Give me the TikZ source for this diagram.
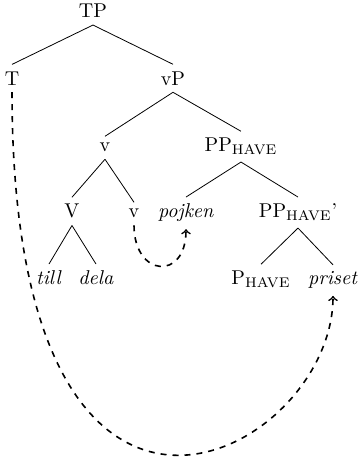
\documentclass[tikz,border=0pt]{standalone}
\usepackage{amsmath}
\usepackage{tikz}
\tikzset{cat/.style={anchor=base}}
\tikzset{move/.style={thick,dashed,->}}

\begin{document}
\begin{tikzpicture}
		\useasboundingbox (0,0) rectangle (6.291,-8.084);
		\node[cat] (TP) at (1.634,-0.316) {TP};
		\node[cat] (T) at (0.211,-1.494) {T};
		\node[cat] (vP) at (3.040,-1.494) {vP};
		\node[cat] (v) at (1.845,-2.671) {v};
		\node[cat] (PP) at (4.235,-2.671) {PP$_{\mathrm{HAVE}}$};
		\node[cat] (V) at (1.265,-3.831) {V};
		\node[cat] (v2) at (2.355,-3.831) {v};
		\node[cat] (pojken) at (3.269,-3.831) {\textit{pojken}};
		\node[cat] (PPbar) at (5.237,-3.831) {PP$_{\mathrm{HAVE}}$'};
		\node[cat] (till) at (0.861,-5.008) {\textit{till}};
		\node[cat] (dela) at (1.687,-5.008) {\textit{dela}};
		\node[cat] (P) at (4.587,-5.008) {P$_{\mathrm{HAVE}}$};
		\node[cat] (priset) at (5.852,-5.008) {\textit{priset}};
		\draw (TP.south)--(T.north);
		\draw (TP.south)--(vP.north);
		\draw (vP.south)--(v.north);
		\draw (vP.south)--(PP.north);
		\draw (v.south)--(V.north);
		\draw (v.south)--(v2.north);
		\draw (PP.south)--(pojken.north);
		\draw (PP.south)--(PPbar.north);
		\draw (V.south)--(till.north);
		\draw (V.south)--(dela.north);
		\draw (PPbar.south)--(P.north);
		\draw (PPbar.south)--(priset.north);
		\draw[move] (v2.south) .. controls +(0,-0.914) and +(0,-0.914) .. (pojken.south);
		\draw[move] (T.south) .. controls +(0,-9.419) and +(0,-2.812) .. (priset.south);
	\end{tikzpicture}
\end{document}
